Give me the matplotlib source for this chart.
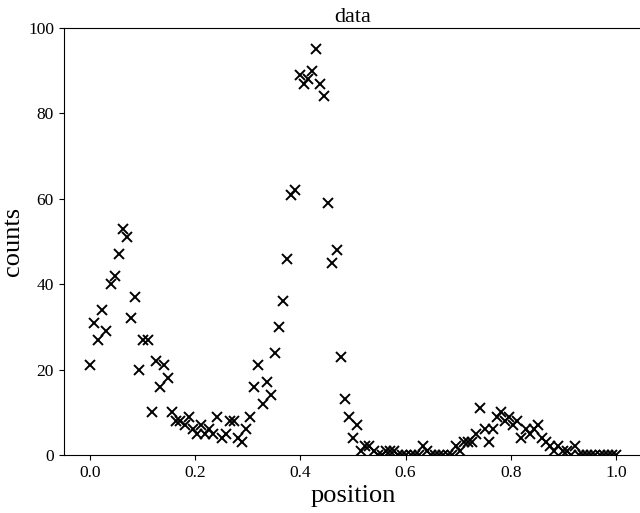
import numpy as np
import matplotlib
matplotlib.use("Agg")
import matplotlib.pyplot as plt

counts = [21, 31, 27, 34, 29, 40, 42, 47, 53, 51,
          32, 37, 20, 27, 27, 10, 22, 16, 21, 18,
          10, 8, 8, 7, 9, 6, 5, 7, 5, 6,
          5, 9, 4, 5, 8, 8, 4, 3, 6, 9,
          16, 21, 12, 17, 14, 24, 30, 36, 46, 61,
          62, 89, 87, 88, 90, 95, 87, 84, 59, 45,
          48, 23, 13, 9, 4, 7, 1, 2, 2, 1,
          0, 0, 1, 1, 1, 0, 0, 0, 0, 0,
          0, 2, 1, 0, 0, 0, 0, 0, 0, 2,
          1, 3, 3, 3, 5, 11, 6, 3, 6, 9,
          10, 8, 9, 7, 8, 4, 6, 5, 6, 7,
          4, 3, 2, 1, 2, 1, 1, 0, 2, 0,
          0, 0, 0, 0, 0, 0, 0, 0, 0]
position = np.linspace(0.0, 1.0, len(counts))

plt.rcParams['font.family'] = ['Liberation Serif', 'DejaVu Serif']

fig = plt.figure(figsize=(6.4, 5.13), dpi=100)
ax = fig.add_axes([63.7 / 640, 58 / 513, 578.6 / 640, 427 / 513])
ax.plot(position, counts, 'x', color='black', markersize=7.5, markeredgewidth=1.4)
ax.set_xlim(-0.05, 1.05)
ax.set_ylim(0, 100)
ax.set_xticks([0.0, 0.2, 0.4, 0.6, 0.8, 1.0])
ax.set_yticks([0, 20, 40, 60, 80, 100])
ax.tick_params(labelsize=12.5)
ax.set_title('data', fontsize=16, pad=4)
ax.set_xlabel('position', fontsize=19, labelpad=3)
ax.set_ylabel('counts', fontsize=19, labelpad=3)

fig.savefig('out.png', dpi=100)
